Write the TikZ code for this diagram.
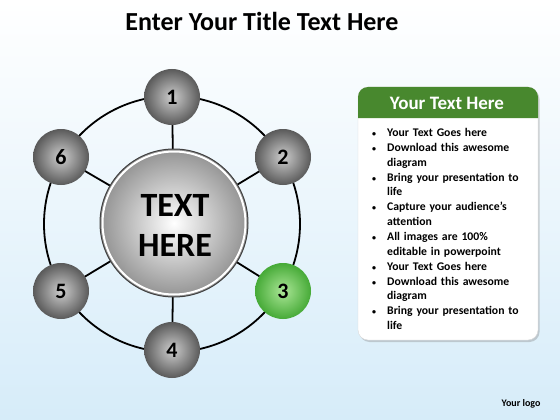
\documentclass[tikz,border=0pt]{standalone}
\usepackage{fontspec}
\setmainfont{Carlito}
\usepackage{enumitem}
\usetikzlibrary{shadows}
\definecolor{bgblue}{RGB}{214,236,249}
\definecolor{hdrgreen}{RGB}{72,136,46}
\definecolor{balldark}{RGB}{90,90,90}
\definecolor{balllight}{RGB}{205,205,205}
\definecolor{greenlight}{RGB}{170,230,150}
\definecolor{greendark}{RGB}{70,170,55}
\tikzset{
  ballnode/.style={circle, minimum size=56pt, inner sep=0pt, shading=radial,
    inner color=balllight, outer color=balldark, font=\bfseries\fontsize{22}{22}\selectfont},
  greenball/.style={ballnode, inner color=greenlight, outer color=greendark},
  link/.style={line width=1.8pt, black},
}
\begin{document}
\begin{tikzpicture}[x=1pt,y=-1pt]
\useasboundingbox (0,0) rectangle (560,420);
\shade[top color=white, bottom color=bgblue] (0,0) rectangle (560,420);

% title
\node[font=\bfseries\fontsize{26}{30}\selectfont] (title) at (262,21) {Enter Your Title Text Here};

% ring
\coordinate (o) at (172,224);
\draw[link] (o) circle (128);

\coordinate (p1) at (172,97);
\coordinate (p2) at (283,157);
\coordinate (p3) at (283,291);
\coordinate (p4) at (172,350);
\coordinate (p5) at (61,291);
\coordinate (p6) at (61,157);

% center
\node[circle, minimum size=148pt, inner sep=0pt] (c) at (174,223) {};
\foreach \i in {1,...,6} \draw[link] (c.center) -- (p\i);
\shade[inner color=white, outer color=gray!85] (c.center) circle (74);
\draw[white, line width=2pt] (c.center) circle (71.5);
\draw[gray!50!black, line width=1pt] (c.center) circle (74);
\node[font=\bfseries\fontsize{34}{40}\selectfont, align=center] (ct) at (175,225) {TEXT\\HERE};

% balls
\node[ballnode] (b1) at (p1) {1};
\node[ballnode] (b2) at (p2) {2};
\node[greenball] (b3) at (p3) {3};
\node[ballnode] (b4) at (p4) {4};
\node[ballnode] (b5) at (p5) {5};
\node[ballnode] (b6) at (p6) {6};

% panel
\node[draw=gray!30, fill=white, rounded corners=10pt, minimum width=180pt, minimum height=253pt,
  drop shadow={shadow xshift=1.5pt, shadow yshift=-2pt, opacity=0.35}] (panel) at (448,213.5) {};
\fill[hdrgreen] (358,118) [rounded corners=10pt]-- (358,87) -- (538,87) [sharp corners]-- (538,118) -- cycle;
\node[white, font=\bfseries\fontsize{19}{20}\selectfont] (hdr) at (447,103) {Your Text Here};
\node[anchor=north west, text width=170pt, inner sep=0pt, font=\bfseries\fontsize{11.7}{14.85}\selectfont] (list) at (364,121.5) {%
\begin{itemize}[leftmargin=23pt, labelsep=11pt, itemsep=0pt, topsep=0pt, parsep=0pt, label={\fontsize{8}{8}\selectfont\textbullet}]
\item Your Text Goes here
\item Download this awesome\\diagram
\item Bring your presentation to\\life
\item Capture your audience’s\\attention
\item All images are 100\%\\editable in powerpoint
\item Your Text Goes here
\item Download this awesome\\diagram
\item Bring your presentation to\\life
\end{itemize}};

\node[font=\bfseries\fontsize{10}{12}\selectfont] (logo) at (521,404) {Your logo};
\end{tikzpicture}
\end{document}
